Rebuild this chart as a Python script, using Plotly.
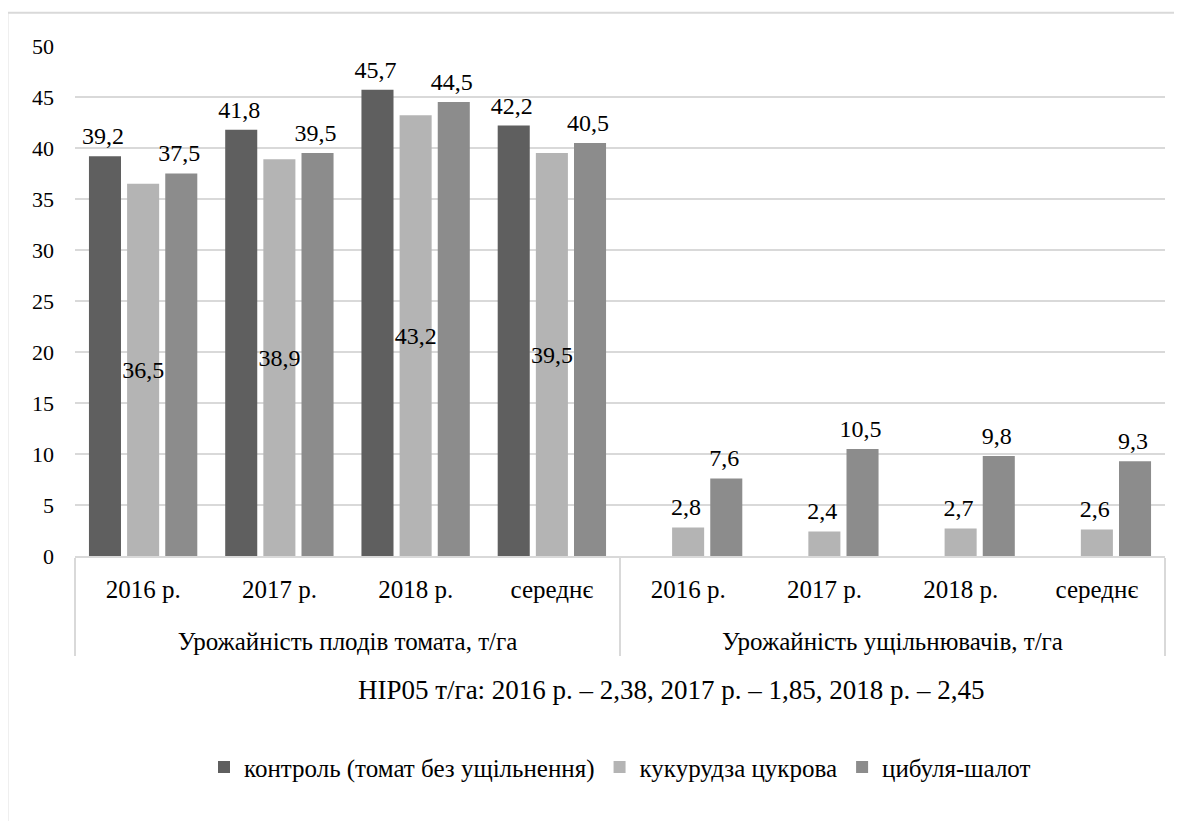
import plotly.graph_objects as go

groups = ["Урожайність плодів томата, т/га"] * 4 + ["Урожайність ущільнювачів, т/га"] * 4
periods = ["2016 р.", "2017 р.", "2018 р.", "середнє"] * 2

series_names = ["контроль (томат без ущільнення)", "кукурудза цукрова", "цибуля-шалот"]
control = [39.2, 41.8, 45.7, 42.2, None, None, None, None]
corn = [36.5, 38.9, 43.2, 39.5, 2.8, 2.4, 2.7, 2.6]
onion = [37.5, 39.5, 44.5, 40.5, 7.6, 10.5, 9.8, 9.3]

y_ticks = [0, 5, 10, 15, 20, 25, 30, 35, 40, 45, 50]
footnote = "НІР05 т/га: 2016 р. – 2,38, 2017 р. – 1,85, 2018 р. – 2,45"

colors = ["#5f5f5f", "#b4b4b4", "#8c8c8c"]
FONT = "Liberation Serif"


def fmt(v, outside=True):
    if v is None:
        return ""
    s = f"{v:.1f}".replace(".", ",")
    return s + "<sub> </sub>" if outside else s


fig = go.Figure()
x = [["<br>" + g for g in groups], periods]
corn_pos = ["inside" if g == groups[0] else "outside" for g in groups]
for name, vals, col, pos in [
    (series_names[0], control, colors[0], ["outside"] * len(control)),
    (series_names[1], corn, colors[1], corn_pos),
    (series_names[2], onion, colors[2], ["outside"] * len(onion)),
]:
    fig.add_trace(go.Bar(
        x=x, y=vals, name=name,
        marker=dict(color=col, line=dict(width=0)),
        text=[fmt(v, p == "outside") for v, p in zip(vals, pos)],
        textposition=pos,
        textangle=0,
        insidetextanchor="middle",
        constraintext="none",
        textfont=dict(family=FONT, size=24, color="black"),
        cliponaxis=False,
    ))

fig.update_layout(
    width=1182, height=821,
    margin=dict(l=67, r=25, t=38, b=273),
    paper_bgcolor="white", plot_bgcolor="white",
    barmode="group", bargap=0.16, bargroupgap=0.16,
    font=dict(family=FONT, size=25, color="black"),
    showlegend=True,
    legend=dict(orientation="h", x=0.5, xanchor="center", y=-0.414, yanchor="middle",
                font=dict(family=FONT, size=25, color="black"),
                itemwidth=30, traceorder="normal"),
    xaxis=dict(type="multicategory", showdividers=True, dividercolor="#d9d9d9", dividerwidth=2,
               showline=True, linecolor="#d9d9d9", linewidth=2, ticks="", ticklabelstandoff=10,
               tickfont=dict(family=FONT, size=25, color="black")),
    yaxis=dict(range=[0, 50], tickvals=y_ticks, showgrid=True, gridcolor="#d9d9d9", gridwidth=1.5,
               zeroline=False, showline=False, ticks="", ticklabelstandoff=20,
               tickfont=dict(family=FONT, size=22, color="black")),
)

fig.add_annotation(text=footnote, xref="paper", yref="paper", x=0.547, y=-0.263,
                   xanchor="center", yanchor="middle",
                   showarrow=False, font=dict(family=FONT, size=27, color="black"))

fig.add_shape(type="rect", xref="paper", yref="paper", x0=-0.062, y0=-0.54, x1=1.1, y1=1.065,
              line=dict(color="#d9d9d9", width=2), fillcolor="rgba(0,0,0,0)", layer="below")

fig.write_html("out.html")
